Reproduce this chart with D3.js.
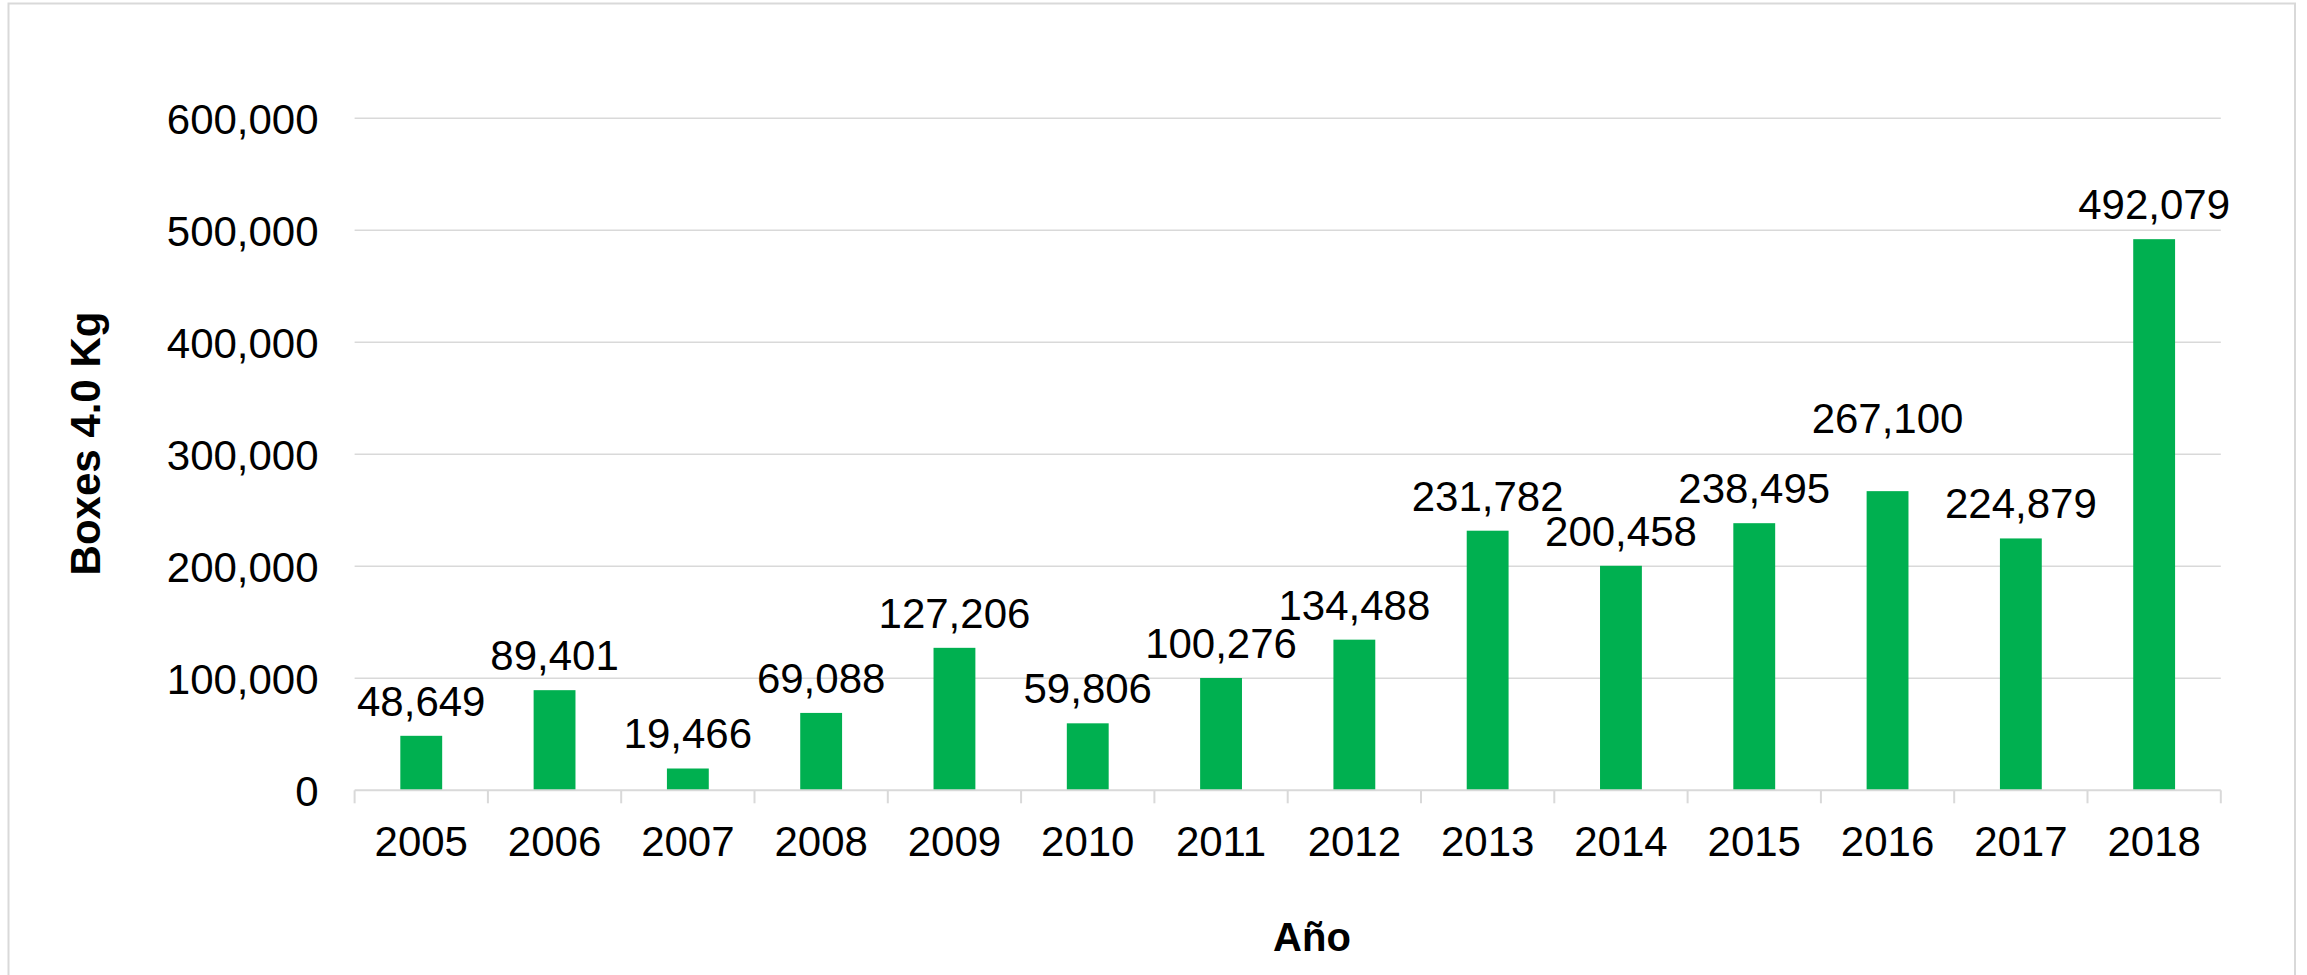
<!DOCTYPE html>
<html>
<head>
<meta charset="utf-8">
<script src="https://cdn.jsdelivr.net/npm/d3@7"></script>
<style>
  body { margin: 0; background: #fff; }
  text { font-family: "Liberation Sans", Arial, sans-serif; fill: #000; }
</style>
</head>
<body>
<div id="chart"></div>
<script>
// data
const years = ["2005", "2006", "2007", "2008", "2009", "2010", "2011",
               "2012", "2013", "2014", "2015", "2016", "2017", "2018"];
const boxes = [48649, 89401, 19466, 69088, 127206, 59806, 100276,
               134488, 231782, 200458, 238495, 267100, 224879, 492079];
const yTicks = [0, 100000, 200000, 300000, 400000, 500000, 600000];

const width = 2307, height = 975;
const plot = { left: 354.6, right: 2220.8, top: 118.3, bottom: 790.3 };
const barColor = "#00b050";
const gridColor = "#d9d9d9";
const fontSize = 42;
// the 2016 label sits higher than the others in the original
const labelLift = { "2016": 38 };

const svg = d3.select("#chart")
  .append("svg")
  .attr("width", width)
  .attr("height", height);

// chart frame
svg.append("rect")
  .attr("x", 8.5)
  .attr("y", 3.5)
  .attr("width", 2295 - 8.5)
  .attr("height", 1100)
  .attr("fill", "none")
  .attr("stroke", gridColor)
  .attr("stroke-width", 2);

const x = d3.scaleBand()
  .domain(years)
  .range([plot.left, plot.right])
  .paddingInner(0.686)
  .paddingOuter(0.343);

const xCat = d3.scaleBand()
  .domain(years)
  .range([plot.left, plot.right]);

const y = d3.scaleLinear()
  .domain([0, 600000])
  .range([plot.bottom, plot.top]);

// gridlines
svg.append("g")
  .selectAll("line")
  .data(yTicks.filter(d => d > 0))
  .join("line")
  .attr("x1", plot.left)
  .attr("x2", plot.right)
  .attr("y1", d => y(d))
  .attr("y2", d => y(d))
  .attr("stroke", gridColor)
  .attr("stroke-width", 1.5);

// y axis labels
const yAxis = svg.append("g")
  .attr("transform", `translate(${plot.left},0)`)
  .call(d3.axisLeft(y).tickValues(yTicks).tickFormat(d3.format(",")).tickSize(0).tickPadding(36));
yAxis.select(".domain").remove();
yAxis.selectAll("text")
  .attr("dy", "0.36em")
  .style("font-size", fontSize + "px")
  .style("font-family", '"Liberation Sans", Arial, sans-serif')
  .attr("fill", "#000");

// bars
svg.append("g")
  .selectAll("rect")
  .data(years)
  .join("rect")
  .attr("x", d => x(d))
  .attr("width", x.bandwidth())
  .attr("y", (d, i) => y(boxes[i]))
  .attr("height", (d, i) => y(0) - y(boxes[i]))
  .attr("fill", barColor);

// x axis line and boundary ticks
svg.append("line")
  .attr("x1", plot.left)
  .attr("x2", plot.right)
  .attr("y1", y(0))
  .attr("y2", y(0))
  .attr("stroke", gridColor)
  .attr("stroke-width", 2);

const bounds = years.map(d => xCat(d)).concat([xCat(years[years.length - 1]) + xCat.bandwidth()]);
svg.append("g")
  .selectAll("line")
  .data(bounds)
  .join("line")
  .attr("x1", d => d)
  .attr("x2", d => d)
  .attr("y1", y(0))
  .attr("y2", y(0) + 13)
  .attr("stroke", gridColor)
  .attr("stroke-width", 2);

// year labels
const xAxis = svg.append("g")
  .attr("transform", `translate(0,${plot.bottom})`)
  .call(d3.axisBottom(xCat).tickSize(0));
xAxis.select(".domain").remove();
xAxis.selectAll("text")
  .attr("y", 65.7)
  .attr("dy", 0)
  .style("font-size", fontSize + "px")
  .style("font-family", '"Liberation Sans", Arial, sans-serif')
  .attr("fill", "#000");

// data labels
svg.append("g")
  .selectAll("text")
  .data(years)
  .join("text")
  .attr("x", d => x(d) + x.bandwidth() / 2)
  .attr("y", (d, i) => y(boxes[i]) - 20 - (labelLift[d] || 0))
  .attr("text-anchor", "middle")
  .style("font-size", fontSize + "px")
  .text((d, i) => d3.format(",")(boxes[i]));

// axis titles
svg.append("text")
  .attr("transform", "translate(100,443.5) rotate(-90)")
  .attr("text-anchor", "middle")
  .style("font-size", fontSize + "px")
  .style("font-weight", "bold")
  .text("Boxes 4.0 Kg");

svg.append("text")
  .attr("x", 1312)
  .attr("y", 950.7)
  .attr("text-anchor", "middle")
  .style("font-size", "40px")
  .style("font-weight", "bold")
  .text("Año");
</script>
</body>
</html>
